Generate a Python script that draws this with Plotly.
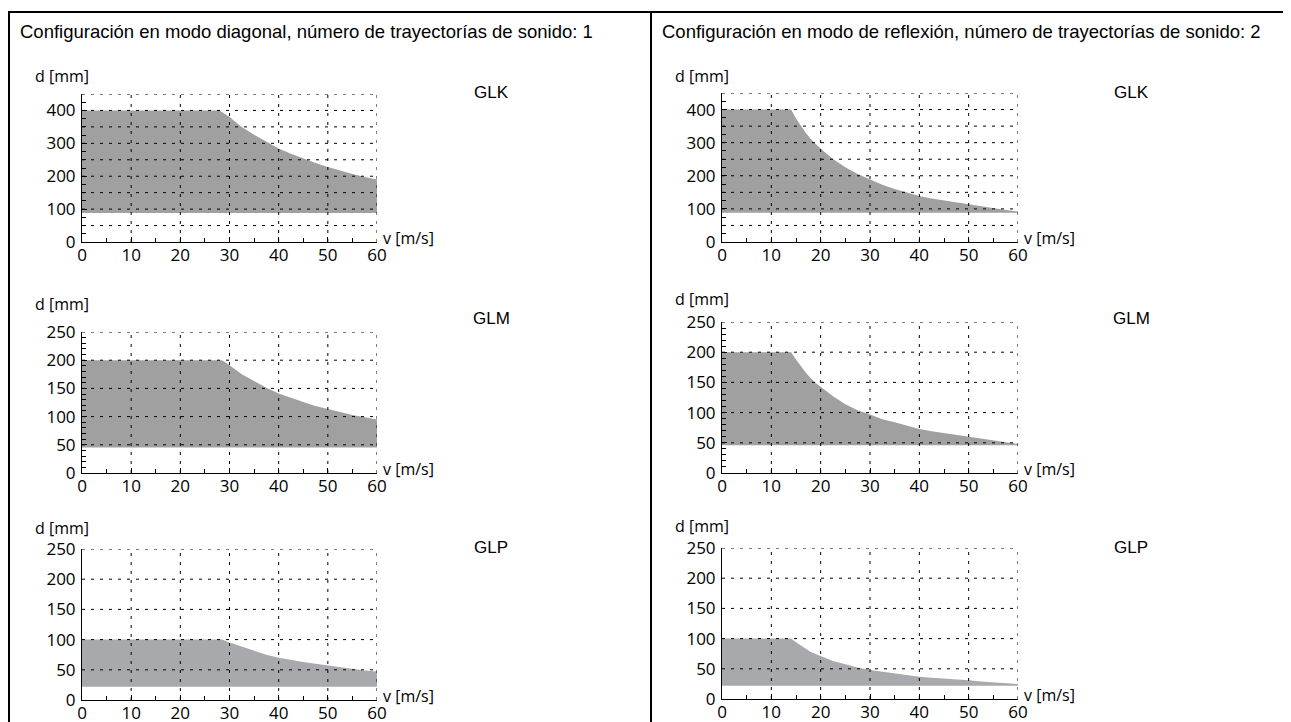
import plotly.graph_objects as go

W, H = 1291, 722
OFF = 8  # page body margin offset

# ---------------- data ----------------
titles = [
    "Configuración en modo diagonal, número de trayectorías de sonido: 1",
    "Configuración en modo de reflexión, número de trayectorías de sonido: 2",
]
sensor_names = ["GLK", "GLM", "GLP"]

# Diagonal mode (1 sound path): upper limit of d [mm] vs v [m/s]
diag_glk_v = [0, 28, 30, 32.5, 35, 37.5, 40, 42.5, 45, 47.5, 50, 52.5, 55, 57.5, 60]
diag_glk = [400, 400, 380, 350, 326, 304, 284, 268, 253, 240, 228, 217, 207, 198, 190]
diag_v = [0, 28.5, 30, 32.5, 35, 37.5, 40, 42.5, 45, 47.5, 50, 52.5, 55, 57.5, 60]
diag_glm = [200, 200, 191, 175, 163, 151, 141, 133, 126, 119, 113, 108, 103, 99, 95]
diag_glp = [100, 100, 95, 88, 81, 75, 70, 66, 63, 60, 57, 54, 51, 49, 47]

# Reflection mode (2 sound paths)
refl_v = [0, 14, 15, 16, 17, 18, 19, 20, 22.5, 25, 27.5, 30, 32.5, 35, 37.5,
          40, 42.5, 45, 47.5, 50, 52.5, 55, 57.5, 60]
refl_glk = [400, 400, 373, 350, 329, 311, 295, 282, 251, 226, 205, 188, 173, 160, 149,
            139, 131, 125, 120, 115, 109, 103, 97, 92]
refl_glm = [200, 200, 188, 176, 166, 157, 149, 143, 127, 114, 104, 97, 89, 84, 78,
            73, 69, 66, 62, 59, 56, 53, 50, 48]
refl_glp = [100, 100, 94, 88, 83, 78, 74, 71, 63, 57, 52, 48, 45, 42, 39,
            37, 35, 34, 32, 31, 29, 28, 26, 25]

# lower limits d_min [mm]
diag_lower = [88, 45, 22]
refl_lower = [88, 46, 22]

y_max = [450, 250, 250]
y_labels = [[0, 100, 200, 300, 400], [0, 50, 100, 150, 200, 250], [0, 50, 100, 150, 200, 250]]
y_grid_step = 50
y_minor = [25, 10, None]
x_ticks = [0, 10, 20, 30, 40, 50, 60]
fill_colors = ["#a0a0a0", "#a0a0a0", "#a8a9ad"]

# ---------------- layout geometry (reference pixels) ----------------
col_x = [(82, 377), (722, 1018)]
row_y = [[(94, 242), (332, 473), (549, 700)],
         [(93, 242), (322, 473), (548, 699)]]
d_label_y = [[76, 304, 528], [76, 299, 526]]
name_x = [491, 1131]
name_y = [92, 318, 547]
title_x = [18, 660]
title_y = 31


def px(x):
    return (x - OFF) / W


def py(y):
    return 1 - (y - OFF) / H


fig = go.Figure()
layout = dict(
    width=W, height=H, margin=dict(l=0, r=0, t=0, b=0),
    paper_bgcolor="white", plot_bgcolor="rgba(0,0,0,0)",
    template="none", showlegend=False,
)
shapes = []
annotations = []

series = [
    ([diag_glk_v, diag_v, diag_v], [diag_glk, diag_glm, diag_glp], diag_lower),
    ([refl_v, refl_v, refl_v], [refl_glk, refl_glm, refl_glp], refl_lower),
]

tick_font = dict(family="Open Sans", size=17, color="black")
label_font = dict(family="Open Sans", size=16, color="black")
idx = 0
for c, (vvs, uppers, lowers) in enumerate(series):
    for r in range(3):
        idx += 1
        xa = "x" if idx == 1 else f"x{idx}"
        ya = "y" if idx == 1 else f"y{idx}"
        xkey = "xaxis" if idx == 1 else f"xaxis{idx}"
        ykey = "yaxis" if idx == 1 else f"yaxis{idx}"
        vv = vvs[r]
        up = uppers[r]
        low = lowers[r]
        fig.add_trace(go.Scatter(
            x=list(vv) + [vv[-1], vv[0]],
            y=list(up) + [low, low],
            fill="toself", fillcolor=fill_colors[r],
            mode="lines", line=dict(width=0),
            xaxis=xa, yaxis=ya, hoverinfo="skip",
        ))
        x0, x1 = col_x[c]
        yt, yb = row_y[c][r]
        layout[xkey] = dict(
            domain=[px(x0), px(x1)], anchor=ya, range=[0, 60],
            tickvals=x_ticks, ticktext=[str(t) for t in x_ticks],
            showgrid=False, zeroline=False, showline=True,
            linecolor="black", linewidth=1, layer="above traces",
            ticks="inside", ticklen=5, tickcolor="black", tickwidth=1,
            minor=dict(dtick=5, tick0=0, ticks="inside", ticklen=4,
                       tickcolor="black", tickwidth=1),
            tickfont=tick_font, fixedrange=True, ticklabelstandoff=-2,
        )
        ymx = y_max[r]
        yd = dict(
            domain=[py(yb), py(yt)], anchor=xa, range=[0, ymx],
            tickvals=y_labels[r], ticktext=[str(t) for t in y_labels[r]],
            showgrid=False, zeroline=False, showline=True,
            linecolor="black", linewidth=1, layer="above traces",
            tickcolor="black", tickwidth=1,
            tickfont=tick_font, fixedrange=True, ticklabelstandoff=2,
        )
        if y_minor[r]:
            yd["ticks"] = "inside"
            yd["ticklen"] = 5
            yd["minor"] = dict(dtick=y_minor[r], tick0=0, ticks="inside",
                               ticklen=4, tickcolor="black", tickwidth=1)
        else:
            yd["ticks"] = ""
        layout[ykey] = yd

        # grid lines above fill
        gy = y_grid_step
        while gy <= ymx:
            shapes.append(dict(type="line", xref=xa, yref=ya, x0=0, x1=60,
                               y0=gy, y1=gy, layer="above",
                               line=dict(color="black", width=1, dash="3px,6px")))
            gy += y_grid_step
        for gx in x_ticks[1:]:
            shapes.append(dict(type="line", xref=xa, yref=ya, x0=gx, x1=gx,
                               y0=0, y1=ymx, layer="above",
                               line=dict(color="black", width=1, dash="3px,6px")))

        # axis labels
        annotations.append(dict(
            xref="paper", yref="paper", x=px(x0 - 49), y=py(d_label_y[c][r]),
            text="d [mm]", showarrow=False, xanchor="left", yanchor="middle",
            font=label_font))
        annotations.append(dict(
            xref=xa, yref=ya, x=60, y=0, text="v [m/s]", showarrow=False,
            xanchor="left", yanchor="middle", xshift=4, yshift=4,
            font=label_font))
        annotations.append(dict(
            xref="paper", yref="paper", x=px(name_x[c]), y=py(name_y[r]),
            text=sensor_names[r], showarrow=False, xanchor="center",
            yanchor="middle",
            font=dict(family="Liberation Sans, Arial", size=17, color="black")))

    annotations.append(dict(
        xref="paper", yref="paper", x=px(title_x[c]), y=py(title_y),
        text=titles[c], showarrow=False, xanchor="left", yanchor="middle",
        font=dict(family="Liberation Sans, Arial", size=18.5, color="black")))

# frame
frame = dict(color="black", width=2)
shapes.append(dict(type="line", xref="paper", yref="paper",
                   x0=px(8), x1=1, y0=py(12), y1=py(12), line=frame))
shapes.append(dict(type="line", xref="paper", yref="paper",
                   x0=px(9), x1=px(9), y0=py(12), y1=0, line=frame))
shapes.append(dict(type="line", xref="paper", yref="paper",
                   x0=px(651), x1=px(651), y0=py(12), y1=0, line=frame))

layout["shapes"] = shapes
layout["annotations"] = annotations
fig.update_layout(**layout)
fig.write_html("out.html")
